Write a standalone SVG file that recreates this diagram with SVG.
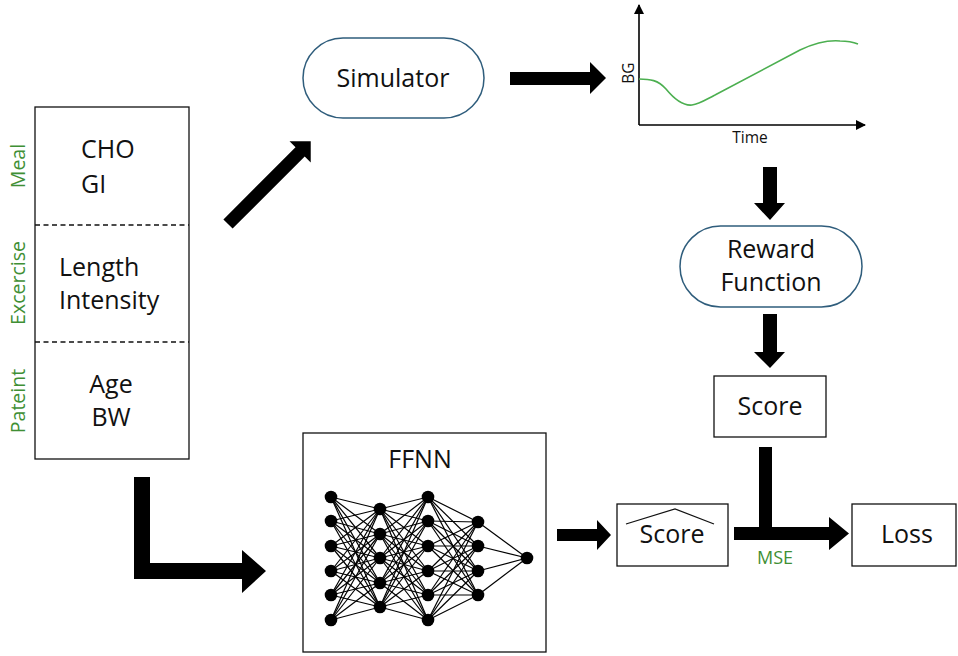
<svg xmlns="http://www.w3.org/2000/svg" width="958" height="656" viewBox="0 0 958 656">
<defs>
<style>
.t{font-family:"Open Sans","Liberation Sans",sans-serif;font-size:25px;fill:#111}
.c{text-anchor:middle}
.g{font-family:"Open Sans","Liberation Sans",sans-serif;font-size:19.5px;fill:#3f8f35}
.m{font-size:18px}
.s{font-family:"Open Sans","Liberation Sans",sans-serif;font-size:15.5px;fill:#111}
.box{fill:#fff;stroke:#111;stroke-width:1.3}
.pill{fill:#fff;stroke:#2f5d7c;stroke-width:1.5}
.arr{fill:#000}
.nn line{stroke:#000;stroke-width:1.2}
.nn circle{fill:#000}
</style>
<marker id="ah" markerWidth="10" markerHeight="10" refX="9" refY="5" orient="auto" markerUnits="userSpaceOnUse">
<path d="M0,0 L10,5 L0,10 Z" fill="#000"/>
</marker>
</defs>
<rect width="958" height="656" fill="#fff"/>

<g id="inputs">
<rect class="box" x="35" y="107" width="154" height="352"/>
<line x1="35" y1="225" x2="189" y2="225" stroke="#111" stroke-width="1.3" stroke-dasharray="5,3.5"/>
<line x1="35" y1="342" x2="189" y2="342" stroke="#111" stroke-width="1.3" stroke-dasharray="5,3.5"/>
<text class="t" x="81" y="158">CHO</text>
<text class="t" x="81" y="193">GI</text>
<text class="t" x="59" y="276">Length</text>
<text class="t" x="59" y="309">Intensity</text>
<text class="t c" x="111" y="393">Age</text>
<text class="t c" x="111" y="426">BW</text>
<text class="g c" transform="translate(25,166) rotate(-90)">Meal</text>
<text class="g c" transform="translate(25,283) rotate(-90)">Excercise</text>
<text class="g c" transform="translate(25,401) rotate(-90)">Pateint</text>
</g>

<g id="simulator">
<rect class="pill" x="303" y="38" width="181" height="80" rx="40"/>
<text class="t c" x="393" y="87">Simulator</text>
</g>

<g id="bg-plot">
<line x1="639" y1="125" x2="639" y2="5" stroke="#000" stroke-width="1.6" marker-end="url(#ah)"/>
<line x1="639" y1="125" x2="865" y2="125" stroke="#000" stroke-width="1.6" marker-end="url(#ah)"/>
<path d="M639,79 C650,79 658,80 666,89 C675,100 683,106 692,105 C700,104 705,100 715,95 L800,50 C815,43 828,40 840,41 C848,41 853,42 858,44" fill="none" stroke="#4caf50" stroke-width="1.6"/>
<text class="s c" transform="translate(634,73) rotate(-90)">BG</text>
<text class="s c" x="750" y="143">Time</text>
</g>

<g id="reward">
<rect class="pill" x="680" y="226" width="182" height="81" rx="40.5"/>
<text class="t c" x="771" y="258">Reward</text>
<text class="t c" x="771" y="291">Function</text>
</g>

<g id="score">
<rect class="box" x="714" y="376" width="112" height="61"/>
<text class="t c" x="770" y="415">Score</text>
</g>

<g id="ffnn">
<rect class="box" x="303" y="433" width="243" height="219"/>
<text class="t c" x="420" y="468">FFNN</text>
</g>

<g id="score-hat">
<rect class="box" x="617" y="504" width="111" height="62"/>
<polyline points="626,524 675,509 714,524" fill="none" stroke="#111" stroke-width="1.3"/>
<text class="t c" x="672" y="543">Score</text>
</g>

<g id="loss">
<rect class="box" x="852" y="504" width="104" height="62"/>
<text class="t c" x="907" y="543">Loss</text>
</g>

<g id="connectors">
<polygon class="arr" points="510,72 590,72 590,62 606,78 590,94 590,85 510,85"/>
<polygon class="arr" transform="translate(228,224) rotate(-45)" points="0,-6.5 102,-6.5 102,-15 117,0 102,15 102,6.5 0,6.5"/>
<polygon class="arr" points="763,167 777,167 777,203 785,203 770,220 754,203 763,203"/>
<polygon class="arr" points="763,314 777,314 777,352 785,352 770,368 754,352 763,352"/>
<rect class="arr" x="759" y="447" width="13" height="93"/>
<polygon class="arr" points="734,527 829,527 829,517 849,533.5 829,550 829,540 734,540"/>
<text class="g m c" x="775" y="564">MSE</text>
<polygon class="arr" points="557,529 597,529 597,520 611,535 597,550 597,541 557,541"/>
<polygon class="arr" points="134,477 150,477 150,563 242,563 242,550 266,571 242,593 242,579 134,579"/>
</g>

<g id="nn-net" class="nn">
<g>
<line x1="331" y1="497" x2="380" y2="509"/><line x1="331" y1="497" x2="380" y2="534"/><line x1="331" y1="497" x2="380" y2="558"/><line x1="331" y1="497" x2="380" y2="583"/><line x1="331" y1="497" x2="380" y2="607"/>
<line x1="331" y1="521" x2="380" y2="509"/><line x1="331" y1="521" x2="380" y2="534"/><line x1="331" y1="521" x2="380" y2="558"/><line x1="331" y1="521" x2="380" y2="583"/><line x1="331" y1="521" x2="380" y2="607"/>
<line x1="331" y1="546" x2="380" y2="509"/><line x1="331" y1="546" x2="380" y2="534"/><line x1="331" y1="546" x2="380" y2="558"/><line x1="331" y1="546" x2="380" y2="583"/><line x1="331" y1="546" x2="380" y2="607"/>
<line x1="331" y1="571" x2="380" y2="509"/><line x1="331" y1="571" x2="380" y2="534"/><line x1="331" y1="571" x2="380" y2="558"/><line x1="331" y1="571" x2="380" y2="583"/><line x1="331" y1="571" x2="380" y2="607"/>
<line x1="331" y1="595" x2="380" y2="509"/><line x1="331" y1="595" x2="380" y2="534"/><line x1="331" y1="595" x2="380" y2="558"/><line x1="331" y1="595" x2="380" y2="583"/><line x1="331" y1="595" x2="380" y2="607"/>
<line x1="331" y1="620" x2="380" y2="509"/><line x1="331" y1="620" x2="380" y2="534"/><line x1="331" y1="620" x2="380" y2="558"/><line x1="331" y1="620" x2="380" y2="583"/><line x1="331" y1="620" x2="380" y2="607"/>
</g>
<g>
<line x1="380" y1="509" x2="428" y2="497"/><line x1="380" y1="509" x2="428" y2="521"/><line x1="380" y1="509" x2="428" y2="546"/><line x1="380" y1="509" x2="428" y2="571"/><line x1="380" y1="509" x2="428" y2="595"/><line x1="380" y1="509" x2="428" y2="620"/>
<line x1="380" y1="534" x2="428" y2="497"/><line x1="380" y1="534" x2="428" y2="521"/><line x1="380" y1="534" x2="428" y2="546"/><line x1="380" y1="534" x2="428" y2="571"/><line x1="380" y1="534" x2="428" y2="595"/><line x1="380" y1="534" x2="428" y2="620"/>
<line x1="380" y1="558" x2="428" y2="497"/><line x1="380" y1="558" x2="428" y2="521"/><line x1="380" y1="558" x2="428" y2="546"/><line x1="380" y1="558" x2="428" y2="571"/><line x1="380" y1="558" x2="428" y2="595"/><line x1="380" y1="558" x2="428" y2="620"/>
<line x1="380" y1="583" x2="428" y2="497"/><line x1="380" y1="583" x2="428" y2="521"/><line x1="380" y1="583" x2="428" y2="546"/><line x1="380" y1="583" x2="428" y2="571"/><line x1="380" y1="583" x2="428" y2="595"/><line x1="380" y1="583" x2="428" y2="620"/>
<line x1="380" y1="607" x2="428" y2="497"/><line x1="380" y1="607" x2="428" y2="521"/><line x1="380" y1="607" x2="428" y2="546"/><line x1="380" y1="607" x2="428" y2="571"/><line x1="380" y1="607" x2="428" y2="595"/><line x1="380" y1="607" x2="428" y2="620"/>
</g>
<g>
<line x1="428" y1="497" x2="478" y2="522"/><line x1="428" y1="497" x2="478" y2="546"/><line x1="428" y1="497" x2="478" y2="571"/><line x1="428" y1="497" x2="478" y2="595"/>
<line x1="428" y1="521" x2="478" y2="522"/><line x1="428" y1="521" x2="478" y2="546"/><line x1="428" y1="521" x2="478" y2="571"/><line x1="428" y1="521" x2="478" y2="595"/>
<line x1="428" y1="546" x2="478" y2="522"/><line x1="428" y1="546" x2="478" y2="546"/><line x1="428" y1="546" x2="478" y2="571"/><line x1="428" y1="546" x2="478" y2="595"/>
<line x1="428" y1="571" x2="478" y2="522"/><line x1="428" y1="571" x2="478" y2="546"/><line x1="428" y1="571" x2="478" y2="571"/><line x1="428" y1="571" x2="478" y2="595"/>
<line x1="428" y1="595" x2="478" y2="522"/><line x1="428" y1="595" x2="478" y2="546"/><line x1="428" y1="595" x2="478" y2="571"/><line x1="428" y1="595" x2="478" y2="595"/>
<line x1="428" y1="620" x2="478" y2="522"/><line x1="428" y1="620" x2="478" y2="546"/><line x1="428" y1="620" x2="478" y2="571"/><line x1="428" y1="620" x2="478" y2="595"/>
</g>
<line x1="478" y1="522" x2="527" y2="558"/><line x1="478" y1="546" x2="527" y2="558"/><line x1="478" y1="571" x2="527" y2="558"/><line x1="478" y1="595" x2="527" y2="558"/>
<circle cx="331" cy="497" r="6.3"/><circle cx="331" cy="521" r="6.3"/><circle cx="331" cy="546" r="6.3"/><circle cx="331" cy="571" r="6.3"/><circle cx="331" cy="595" r="6.3"/><circle cx="331" cy="620" r="6.3"/>
<circle cx="380" cy="509" r="6.3"/><circle cx="380" cy="534" r="6.3"/><circle cx="380" cy="558" r="6.3"/><circle cx="380" cy="583" r="6.3"/><circle cx="380" cy="607" r="6.3"/>
<circle cx="428" cy="497" r="6.3"/><circle cx="428" cy="521" r="6.3"/><circle cx="428" cy="546" r="6.3"/><circle cx="428" cy="571" r="6.3"/><circle cx="428" cy="595" r="6.3"/><circle cx="428" cy="620" r="6.3"/>
<circle cx="478" cy="522" r="6.3"/><circle cx="478" cy="546" r="6.3"/><circle cx="478" cy="571" r="6.3"/><circle cx="478" cy="595" r="6.3"/>
<circle cx="527" cy="558" r="6.3"/>
</g>
</svg>
